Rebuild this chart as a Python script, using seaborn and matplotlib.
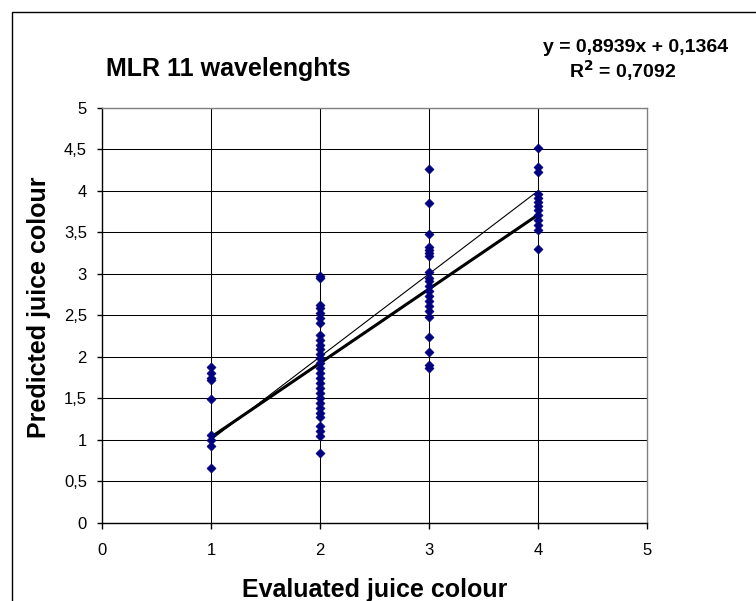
import matplotlib
matplotlib.use("Agg")
import matplotlib.pyplot as plt
import seaborn as sns
import pandas as pd
from matplotlib.patches import Rectangle

sns.set_theme(style="white")
plt.rcParams['font.family'] = ['Liberation Sans', 'DejaVu Sans']
plt.rcParams['text.color'] = 'black'
plt.rcParams['axes.labelcolor'] = 'black'

# Data
x1 = [1.88, 1.80, 1.74, 1.72, 1.49, 1.06, 1.00, 0.93, 0.66]
x2 = [2.97, 2.95, 2.63, 2.59, 2.53, 2.47, 2.41, 2.26, 2.20, 2.14, 2.10, 2.04,
      1.98, 1.92, 1.86, 1.80, 1.74, 1.68, 1.62, 1.56, 1.50, 1.44, 1.38, 1.32,
      1.28, 1.16, 1.10, 1.04, 0.84]
x3 = [4.27, 3.85, 3.48, 3.33, 3.29, 3.25, 3.22, 3.02, 2.95, 2.91, 2.85, 2.79,
      2.73, 2.67, 2.61, 2.55, 2.48, 2.24, 2.06, 1.90, 1.86]
x4 = [4.52, 4.29, 4.23, 3.96, 3.91, 3.87, 3.82, 3.77, 3.71, 3.65, 3.59, 3.53,
      3.30]

evaluated = [1] * len(x1) + [2] * len(x2) + [3] * len(x3) + [4] * len(x4)
predicted = x1 + x2 + x3 + x4

slope = 0.8939
intercept = 0.1364
line_x = [1, 4]
trend_y = [slope * v + intercept for v in line_x]
ident_y = [1, 4]

title = "MLR 11 wavelenghts"
eq_text = "y = 0,8939x + 0,1364"
r2_text = "R$^\\mathbf{2}$ = 0,7092"
xlabel = "Evaluated juice colour"
ylabel = "Predicted juice colour"
xticks = [0, 1, 2, 3, 4, 5]
yticks = [0, 0.5, 1, 1.5, 2, 2.5, 3, 3.5, 4, 4.5, 5]

df = pd.DataFrame({"evaluated": evaluated, "predicted": predicted})
lines = pd.DataFrame({"x": line_x, "trend": trend_y, "ident": ident_y})

W, H = 756, 601
fig = plt.figure(figsize=(7.56, 6.01), dpi=100)
ax = fig.add_axes([102/W, 1 - 522.7/H, (647-102)/W, (522.7-108)/H])

# outer chart border
fig.patches.append(Rectangle((12/W, -0.1), 1.2, 1 - 12/H + 0.1,
                             transform=fig.transFigure, fill=False,
                             edgecolor='black', linewidth=1.0))

ax.set_xlim(0, 5)
ax.set_ylim(0, 5)
ax.set_xticks(xticks)
ax.set_yticks(yticks)
ax.set_xticklabels([str(t) for t in xticks])
ax.set_yticklabels([("%g" % t).replace('.', ',') for t in yticks])

for t in yticks:
    ax.axhline(t, color='black', linewidth=0.75, zorder=0)
for t in xticks[1:-1]:
    ax.axvline(t, color='black', linewidth=0.75, zorder=0)

sns.lineplot(data=lines, x="x", y="ident", ax=ax, color='black', linewidth=0.8)
sns.lineplot(data=lines, x="x", y="trend", ax=ax, color='black', linewidth=2.2)
sns.scatterplot(data=df, x="evaluated", y="predicted", ax=ax, marker='D',
                color='#000080', edgecolor='#000080', s=22, zorder=5)

for s in ['left', 'bottom']:
    ax.spines[s].set_color('black')
    ax.spines[s].set_linewidth(1.0)
for s in ['top', 'right']:
    ax.spines[s].set_color('#808080')
    ax.spines[s].set_linewidth(1.0)
    ax.spines[s].set_visible(True)

ax.tick_params(axis='x', direction='out', length=4.5, width=1, color='black',
               labelsize=12, labelcolor='black', bottom=True, pad=10)
ax.tick_params(axis='y', direction='out', length=3.8, width=1, color='black',
               labelsize=12, labelcolor='black', left=True, pad=7)

ax.set_xlabel("")
ax.set_ylabel("")
fig.text(374.5/W, 1 - 597/H, xlabel, fontsize=18, fontweight='bold',
         ha='center', va='baseline')
fig.text(39/W, 1 - 307/H, ylabel, fontsize=18, fontweight='bold',
         ha='center', va='center', rotation=90)

fig.text(228/W, 1 - 76/H, title, fontsize=18, fontweight='bold',
         ha='center', va='baseline')
fig.text(636/W, 1 - 51.7/H, eq_text, fontsize=14, fontweight='bold',
         ha='center', va='baseline')
fig.text(623/W, 1 - 78.3/H, r2_text, fontsize=14, fontweight='bold',
         ha='center', va='baseline')

fig.savefig("out.png", dpi=100)
